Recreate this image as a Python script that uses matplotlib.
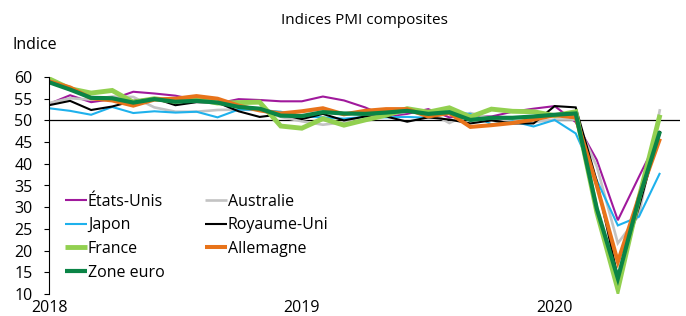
import numpy as np
import matplotlib
matplotlib.use("Agg")
import matplotlib.pyplot as plt

# =========================
# DATA (monthly, Jan 2018 -> Jun 2020)
# =========================
etats_unis = [53.8, 55.8, 54.2, 54.9, 56.6, 56.2, 55.7, 54.7, 53.9, 54.9, 54.7, 54.4,
              54.4, 55.5, 54.6, 53.0, 50.9, 51.5, 52.6, 50.7, 51.0, 50.9, 52.0, 52.7,
              53.3, 49.6, 40.9, 27.0, 37.0, 46.8]
australie = [54.0, 55.1, 54.8, 55.5, 55.4, 53.0, 52.0, 52.0, 52.4, 52.5, 52.4, 50.8,
             49.8, 49.0, 49.6, 51.0, 51.2, 52.0, 52.1, 49.4, 51.7, 50.5, 49.9, 49.6,
             50.2, 50.2, 39.4, 21.7, 28.1, 52.6]
japon = [52.8, 52.2, 51.3, 53.1, 51.7, 52.1, 51.8, 52.0, 50.7, 52.5, 52.4, 52.0,
         50.9, 50.7, 50.4, 50.8, 50.7, 50.8, 50.6, 51.9, 51.5, 49.1, 49.8, 48.6,
         50.1, 47.0, 36.2, 25.8, 27.8, 37.9]
royaume_uni = [53.5, 54.5, 52.4, 53.2, 54.5, 55.1, 53.5, 54.2, 54.1, 52.1, 50.8, 51.4,
               50.3, 51.5, 50.0, 50.9, 50.9, 49.7, 50.7, 50.2, 49.3, 50.0, 49.3, 49.3,
               53.3, 53.0, 36.0, 13.8, 30.0, 47.6]
france = [59.6, 57.3, 56.3, 56.9, 54.2, 55.0, 54.4, 54.9, 54.0, 54.1, 54.2, 48.7,
          48.2, 50.4, 48.9, 50.1, 51.2, 52.7, 51.9, 52.9, 50.8, 52.6, 52.1, 52.0,
          51.1, 52.0, 28.9, 11.1, 32.1, 51.3]
allemagne = [59.0, 57.6, 55.1, 54.6, 53.4, 54.8, 55.0, 55.6, 55.0, 53.4, 52.3, 51.6,
             52.1, 52.8, 51.4, 52.2, 52.6, 52.6, 50.9, 51.7, 48.5, 48.9, 49.4, 50.2,
             51.2, 50.7, 35.0, 17.4, 32.3, 45.8]
zone_euro = [58.8, 57.1, 55.2, 55.1, 54.1, 54.9, 54.3, 54.5, 54.1, 53.1, 52.7, 51.1,
             51.0, 51.9, 51.6, 51.5, 51.8, 52.2, 51.5, 51.9, 50.1, 50.6, 50.6, 50.9,
             51.3, 51.6, 29.7, 13.6, 31.9, 47.5]

SERIES = [
    ("États-Unis", etats_unis, "#A0199C", 1.5),
    ("Australie", australie, "#C3C3C3", 1.9),
    ("Japon", japon, "#1EB1EC", 1.5),
    ("Royaume-Uni", royaume_uni, "#000000", 1.5),
    ("France", france, "#92D050", 3.5),
    ("Allemagne", allemagne, "#E8731A", 2.9),
    ("Zone euro", zone_euro, "#0A8446", 3.0),
]
YEAR_LABELS = ["2018", "2019", "2020"]

plt.rcParams['font.family'] = ['Open Sans', 'DejaVu Sans']

fig = plt.figure(figsize=(6.86, 3.16), dpi=100)
ax = fig.add_axes([49 / 686, 22 / 316, 631 / 686, 217 / 316])

months = np.arange(len(zone_euro))
lines = {}
for name, vals, color, lw in SERIES:
    lines[name], = ax.plot(months, vals, color=color, lw=lw, label=name,
                           solid_joinstyle='miter', solid_capstyle='butt')

# ligne de référence à 50
ax.axhline(50, color='black', lw=0.9, zorder=0.5)

ax.set_xlim(0, 29.95)
ax.set_ylim(10, 60)
ax.set_yticks(np.arange(10, 61, 5))
ax.set_xticks([0, 12, 24])
ax.set_xticklabels(YEAR_LABELS)
ax.tick_params(axis='x', length=0, pad=4, labelsize=11.5)
ax.tick_params(axis='y', length=3.8, width=0.8, pad=8, labelsize=11.5)
for s in ['top', 'right', 'bottom']:
    ax.spines[s].set_visible(False)
ax.spines['left'].set_linewidth(0.8)

order = ["États-Unis", "Japon", "France", "Zone euro", "Australie", "Royaume-Uni", "Allemagne"]
ax.legend([lines[n] for n in order], order, ncol=2, loc='upper left',
          bbox_to_anchor=(0.025, 0.462), frameon=False, fontsize=11.5,
          handlelength=1.4, handletextpad=0.05, columnspacing=2.5,
          labelspacing=0.48, borderpad=0, borderaxespad=0)

fig.text(364.5 / 686, 1 - 20 / 316, "Indices PMI composites", ha='center', va='center', fontsize=11)
fig.text(12 / 686, 1 - 45 / 316, "Indice", ha='left', va='center', fontsize=11.5)

fig.savefig("out.png", dpi=100)
